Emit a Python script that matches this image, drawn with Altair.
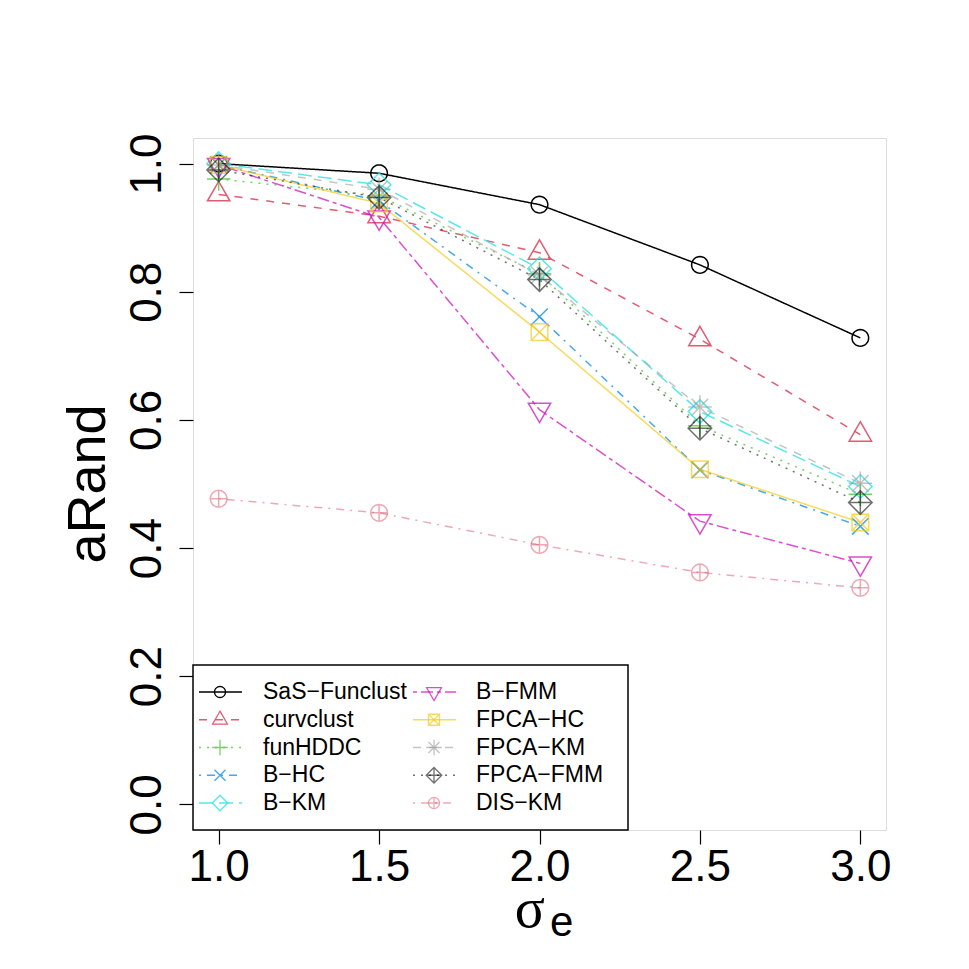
import altair as alt
import pandas as pd
import numpy as np

# ---------------- data ----------------
sigma = [1.0, 1.5, 2.0, 2.5, 3.0]
series = ["SaS-Funclust", "curvclust", "funHDDC", "B-HC", "B-KM",
          "B-FMM", "FPCA-HC", "FPCA-KM", "FPCA-FMM", "DIS-KM"]
sas_funclust = [1.000, 0.985, 0.936, 0.842, 0.728]
curvclust    = [0.952, 0.918, 0.861, 0.726, 0.577]
funhddc      = [0.976, 0.950, 0.828, 0.591, 0.484]
b_hc         = [0.998, 0.942, 0.761, 0.522, 0.434]
b_km         = [1.000, 0.967, 0.836, 0.613, 0.496]
b_fmm        = [0.998, 0.916, 0.616, 0.442, 0.376]
fpca_hc      = [0.998, 0.938, 0.737, 0.523, 0.440]
fpca_km      = [0.998, 0.960, 0.826, 0.620, 0.501]
fpca_fmm     = [0.990, 0.947, 0.819, 0.587, 0.471]
dis_km       = [0.477, 0.455, 0.405, 0.362, 0.338]
values = [sas_funclust, curvclust, funhddc, b_hc, b_km,
          b_fmm, fpca_hc, fpca_km, fpca_fmm, dis_km]
x_ticks = [1.0, 1.5, 2.0, 2.5, 3.0]
y_ticks = [0.0, 0.2, 0.4, 0.6, 0.8, 1.0]

# ---------------- styles ----------------
colors = ["#000000", "#DF536B", "#61D04F", "#2297E6", "#28E2E5",
          "#CD0BBC", "#F5C710", "#9E9E9E", "#000000", "#DF536B"]
opacities = [1.0, 0.5, 0.55, 0.55, 0.55, 0.6, 0.6, 0.55, 0.65, 0.55]
dashes = [[1, 0], [8, 8], [2, 6], [2, 6, 8, 6], [14, 6],
          [4, 4, 12, 4], [1, 0], [8, 8], [2, 6], [2, 6, 8, 6]]

ang = np.linspace(0, 2 * np.pi, 33)
circ = "M" + "L".join(f"{np.cos(a):.3f},{np.sin(a):.3f}" for a in ang) + "Z"
shapes = [
    circ,
    "M0,-1.555L1.347,0.778L-1.347,0.778Z",
    "M-1.414,0L1.414,0M0,-1.414L0,1.414",
    "M-1,-1L1,1M-1,1L1,-1",
    "M0,-1.414L1.414,0L0,1.414L-1.414,0Z",
    "M0,1.555L1.347,-0.778L-1.347,-0.778Z",
    "M-1,-1L1,-1L1,1L-1,1ZM-1,-1L1,1M-1,1L1,-1",
    "M-1,-1L1,1M-1,1L1,-1M-1.414,0L1.414,0M0,-1.414L0,1.414",
    "M0,-1.414L1.414,0L0,1.414L-1.414,0ZM-1.414,0L1.414,0M0,-1.414L0,1.414",
    circ + "M-1,0L1,0M0,-1L0,1",
]

rows = []
for s, vals in zip(series, values):
    for xv, yv in zip(sigma, vals):
        rows.append({"series": s, "sigma": xv, "arand": yv})
df = pd.DataFrame(rows)

FONT = "Liberation Sans"
color_sc = alt.Scale(domain=series, range=colors)
dash_sc = alt.Scale(domain=series, range=dashes)
op_sc = alt.Scale(domain=series, range=opacities)
shape_sc = alt.Scale(domain=series, range=shapes)

xenc = alt.X("sigma:Q", scale=alt.Scale(domain=[0.92, 3.08], nice=False, zero=False),
             axis=alt.Axis(values=x_ticks, format=".1f", title=None, grid=False, domain=False,
                           tickSize=14, tickColor="black", tickWidth=1.2,
                           labelFontSize=44, labelFont=FONT, labelColor="black",
                           labelPadding=1, labelFlush=False, labelOverlap=False))
yenc = alt.Y("arand:Q", scale=alt.Scale(domain=[-0.04, 1.04], nice=False, zero=False),
             axis=alt.Axis(values=y_ticks, format=".1f", title=None, grid=False, domain=False,
                           tickSize=14, tickColor="black", tickWidth=1.2,
                           labelFontSize=44, labelFont=FONT, labelColor="black",
                           labelAngle=270, labelAlign="center", labelBaseline="alphabetic",
                           labelPadding=19, labelFlush=False, labelOverlap=False))

lines = alt.Chart(df).mark_line(strokeWidth=1.5).encode(
    x=xenc, y=yenc,
    color=alt.Color("series:N", scale=color_sc, legend=None),
    strokeDash=alt.StrokeDash("series:N", scale=dash_sc, legend=None),
    opacity=alt.Opacity("series:N", scale=op_sc, legend=None),
)
points = alt.Chart(df).mark_point(filled=False, size=276, strokeWidth=1.5).encode(
    x="sigma:Q", y="arand:Q",
    color=alt.Color("series:N", scale=color_sc, legend=None),
    shape=alt.Shape("series:N", scale=shape_sc, legend=None),
    opacity=alt.Opacity("series:N", scale=op_sc, legend=None),
)

# ---------------- legend (built from the series list) ----------------
leg = pd.DataFrame({"series": series})
leg["label"] = leg["series"].str.replace("-", "\u2212")
leg["col"] = [i // 5 for i in range(len(series))]
leg["row"] = [i % 5 for i in range(len(series))]
leg["lx1"] = 6 + leg["col"] * 214
leg["lx2"] = 49 + leg["col"] * 214
leg["mx"] = 27 + leg["col"] * 214
leg["tx"] = 70 + leg["col"] * 213
leg["ly"] = 554 + leg["row"] * 27.75

box = alt.Chart(pd.DataFrame({"a": [0]})).mark_rect(
    fill="white", stroke="black", strokeWidth=1.5).encode(
    x=alt.value(0), x2=alt.value(435), y=alt.value(527), y2=alt.value(692))
leg_lines = alt.Chart(leg).mark_rule(strokeWidth=1.5).encode(
    x=alt.X("lx1:Q", scale=None, axis=None), x2="lx2:Q",
    y=alt.Y("ly:Q", scale=None, axis=None),
    color=alt.Color("series:N", scale=color_sc, legend=None),
    strokeDash=alt.StrokeDash("series:N", scale=dash_sc, legend=None),
    opacity=alt.Opacity("series:N", scale=op_sc, legend=None),
)
leg_pts = alt.Chart(leg).mark_point(filled=False, size=121, strokeWidth=1.3).encode(
    x=alt.X("mx:Q", scale=None, axis=None),
    y=alt.Y("ly:Q", scale=None, axis=None),
    color=alt.Color("series:N", scale=color_sc, legend=None),
    shape=alt.Shape("series:N", scale=shape_sc, legend=None),
    opacity=alt.Opacity("series:N", scale=op_sc, legend=None),
)
leg_txt = alt.Chart(leg).mark_text(align="left", baseline="middle", fontSize=23,
                                   font=FONT, color="black").encode(
    x=alt.X("tx:Q", scale=None, axis=None),
    y=alt.Y("ly:Q", scale=None, axis=None),
    text="label:N",
)

# ---------------- axis titles ----------------
one = pd.DataFrame({"a": [0]})
ytitle = alt.Chart(one).mark_text(text="aRand", angle=270, align="center",
                                  baseline="alphabetic", fontSize=54, font=FONT,
                                  color="black").encode(x=alt.value(-88), y=alt.value(346))
xsig = alt.Chart(one).mark_text(text="σ", align="right", baseline="alphabetic",
                                fontSize=56, font="Liberation Serif",
                                color="black").encode(x=alt.value(352), y=alt.value(789))
xsub = alt.Chart(one).mark_text(text="e", align="left", baseline="alphabetic",
                                fontSize=42, font=FONT,
                                color="black").encode(x=alt.value(357), y=alt.value(798))

chart = alt.layer(lines, points, box, leg_lines, leg_pts, leg_txt, ytitle, xsig, xsub).properties(
    width=693, height=692,
    autosize=alt.AutoSizeParams(type="none"),
    padding={"left": 185, "top": 130, "right": 75, "bottom": 125},
).configure_view(stroke="black", strokeWidth=1.5, fill="white").configure(background="white")

chart.save("out.html", embed_options={"renderer": "svg", "actions": False})
